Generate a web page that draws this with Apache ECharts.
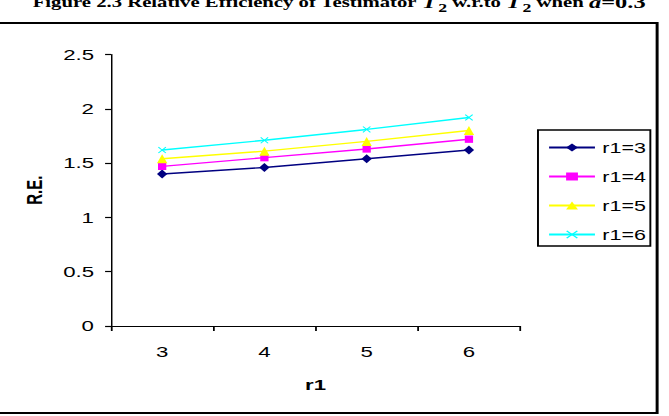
<!DOCTYPE html>
<html>
<head>
<meta charset="utf-8">
<script src="https://cdn.jsdelivr.net/npm/echarts@6/dist/echarts.min.js"></script>
<style>
  html, body { margin: 0; padding: 0; background: #fff; overflow: hidden; }
  /* the source figure is stretched horizontally, so draw narrow and widen */
  #chart { width: 452px; height: 416px; transform: scaleX(1.48); transform-origin: 0 0; }
</style>
</head>
<body>
<div id="chart"></div>
<script>
// x categories (r1)
const categories = ['3', '4', '5', '6'];
const seriesNames = ['r1=3', 'r1=4', 'r1=5', 'r1=6'];
// relative efficiency values
const re_r3 = [1.40, 1.46, 1.54, 1.62];
const re_r4 = [1.47, 1.55, 1.63, 1.72];
const re_r5 = [1.54, 1.61, 1.70, 1.80];
const re_r6 = [1.62, 1.71, 1.81, 1.92];
const yTicks = [0, 0.5, 1, 1.5, 2, 2.5];

const colors = ['#000080', '#ff00ff', '#ffff00', '#00ffff'];
const crossPath = 'path://M0,1L1,0L5,4L9,0L10,1L6,5L10,9L9,10L5,6L1,10L0,9L4,5Z';
const symbols = ['diamond', 'rect', 'triangle', crossPath];
const symbolSizes = [[7, 9], [5.6, 7.3], [7, 9], [5.6, 6.5]];
const allData = [re_r3, re_r4, re_r5, re_r6];

const chart = echarts.init(document.getElementById('chart'), null, { renderer: 'svg' });

const series = allData.map((d, i) => ({
  name: seriesNames[i],
  type: 'line',
  data: d,
  symbol: symbols[i],
  symbolSize: symbolSizes[i],
  showAllSymbol: true,
  lineStyle: { color: colors[i], width: 1.4 },
  itemStyle: { color: colors[i] }
}));

chart.setOption({
  backgroundColor: '#fff',
  animation: false,
  textStyle: { fontFamily: 'Liberation Sans, Arial, sans-serif' },
  title: {
    left: 224,
    textAlign: 'center',
    top: -15,
    text: '{b|Figure 2.3 Relative Efficiency of Testimator }{i|T}{s|2}{b| w.r.to }{i|T}{s|2}{b| when }{i|a}{n|=0.3}',
    textStyle: {
      rich: {
        b: { fontFamily: 'Liberation Serif', fontWeight: 'bold', fontSize: 14, color: '#000' },
        i: { fontFamily: 'Liberation Serif', fontStyle: 'italic', fontSize: 16.5, color: '#000' },
        n: { fontFamily: 'Liberation Serif', fontSize: 16.5, color: '#000' },
        s: { fontFamily: 'Liberation Serif', fontSize: 12, color: '#000', padding: [12, 0, 0, 1] }
      }
    }
  },
  graphic: [{
    type: 'rect',
    shape: { x: -5, y: 23, width: 449, height: 390 },
    style: { fill: null, stroke: '#000', lineWidth: 2 },
    silent: true
  }],
  grid: { left: 75, right: 100.6, top: 54.5, bottom: 90 },
  legend: {
    orient: 'vertical',
    left: 363.5,
    top: 130,
    data: seriesNames,
    itemWidth: 31,
    itemHeight: 10,
    itemGap: 14,
    padding: [10, 3, 4, 6.5],
    borderColor: '#000',
    borderWidth: 1.3,
    backgroundColor: '#fff',
    textStyle: { fontSize: 14.5, color: '#000', lineHeight: 15 }
  },
  xAxis: {
    type: 'category',
    data: categories,
    boundaryGap: true,
    name: 'r1',
    nameLocation: 'middle',
    nameGap: 51,
    nameTextStyle: { fontSize: 15, fontWeight: 'bold', color: '#000' },
    axisLine: { lineStyle: { color: '#000', width: 1.2 } },
    axisTick: { show: true, length: 5, lineStyle: { color: '#000', width: 1.2 } },
    axisLabel: { fontSize: 15, color: '#000', margin: 18 },
    splitLine: { show: false }
  },
  yAxis: {
    type: 'value',
    min: yTicks[0],
    max: yTicks[yTicks.length - 1],
    interval: 0.5,
    name: 'R.E.',
    nameLocation: 'middle',
    nameGap: 44,
    nameRotate: 90,
    nameTextStyle: { fontSize: 15, fontWeight: 'bold', color: '#000' },
    axisLine: { show: true, lineStyle: { color: '#000', width: 1 } },
    axisTick: { show: true, length: 4, lineStyle: { color: '#000', width: 1.2 } },
    axisLabel: { fontSize: 15, color: '#000', margin: 11.5 },
    splitLine: { show: false }
  },
  series
});
</script>
</body>
</html>
